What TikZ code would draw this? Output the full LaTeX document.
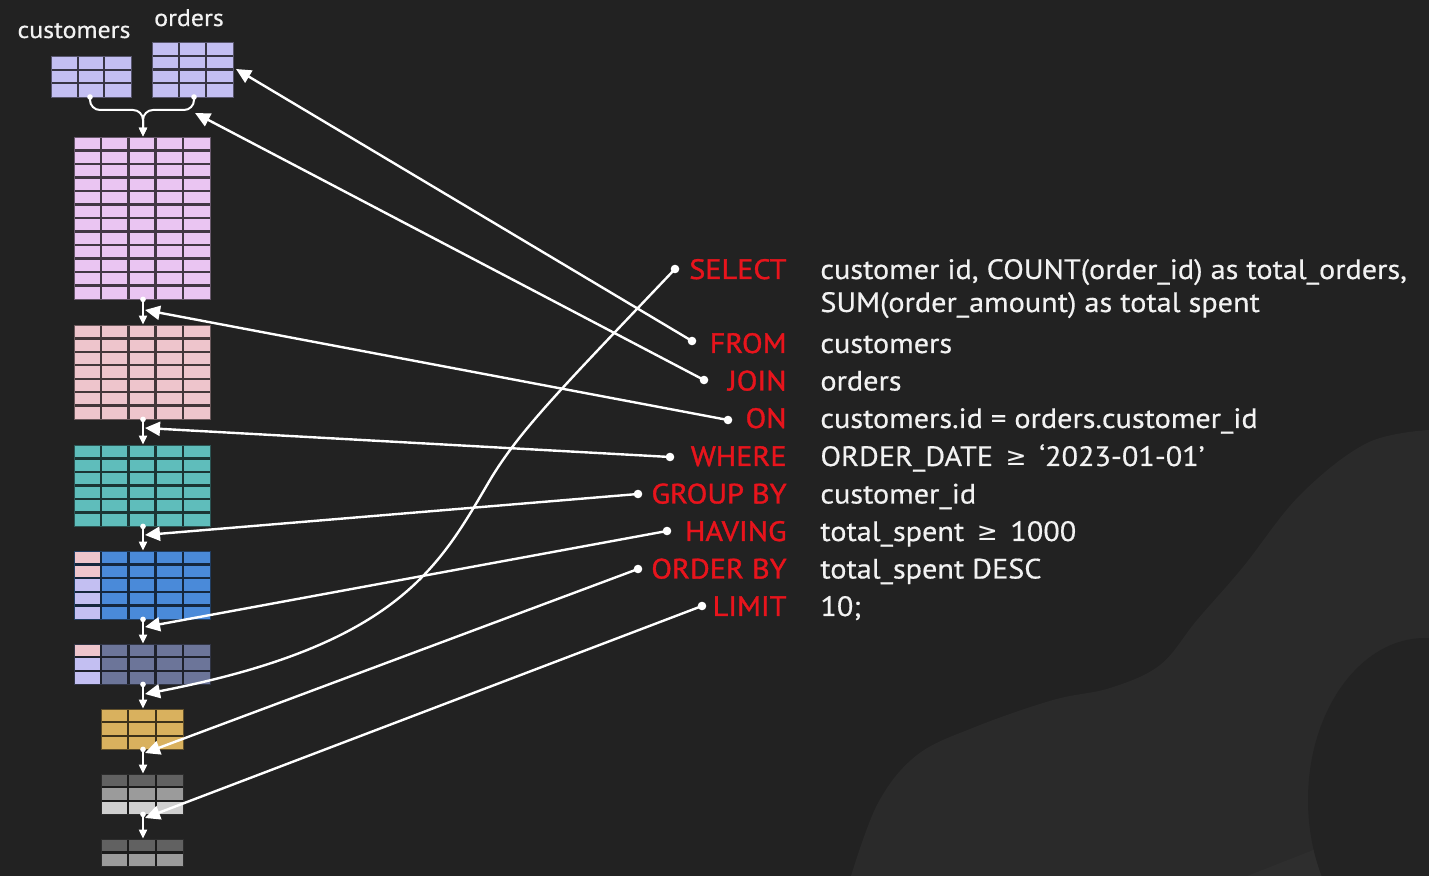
\documentclass[tikz,border=0pt]{standalone}
\usepackage{fontspec}
\setmainfont{PT Sans}[FakeStretch=1.08, FakeBold=0.5]
\newfontfamily\kwf{PT Sans}[FakeStretch=1.08, FakeBold=1.3]
\newfontfamily\symf{DejaVu Sans}
\usetikzlibrary{arrows.meta,fit,calc}
\definecolor{bg}{HTML}{222222}
\definecolor{blobc}{HTML}{2A2A2A}
\definecolor{blobd}{HTML}{2E2E2E}
\definecolor{ellc}{HTML}{232323}
\definecolor{kwred}{HTML}{E8141C}
\definecolor{txtw}{HTML}{F2F2F2}
\definecolor{lav}{HTML}{C3BFF2}
\definecolor{lilac}{HTML}{EAC5F2}
\definecolor{pinkc}{HTML}{EEC5CC}
\definecolor{tealc}{HTML}{5FBDBB}
\definecolor{bluec}{HTML}{4A8AD9}
\definecolor{slatec}{HTML}{6C7599}
\definecolor{goldc}{HTML}{D9B15E}
\definecolor{gA}{HTML}{616161}
\definecolor{gB}{HTML}{9B9B9B}
\definecolor{gC}{HTML}{CFCFCF}
\tikzset{
  gridln/.style={draw=#1!28!black, line width=1.15pt},
  gridbox/.style={draw=#1!45!black, line width=0.45pt},
  tbl/.style={inner sep=0pt, fill=#1},
  kdot/.style={circle, fill=white, inner sep=0pt, minimum size=4.3pt},
  sdot/.style={circle, fill=white, inner sep=0pt, minimum size=2.8pt},
  conn/.style={draw=white, line width=1.2pt, -{Triangle[length=7.5pt,width=7pt]}},
  vconn/.style={draw=white, line width=1pt, -{Triangle[length=4.5pt,width=4pt]}},
  kw/.style={text=kwred, font=\kwf\fontsize{14}{16}\selectfont, inner sep=0pt, anchor=base east},
  val/.style={text=txtw, font=\fontsize{14}{16}\selectfont, inner sep=0pt, anchor=base west},
  lbl/.style={text=txtw, font=\fontsize{12}{14}\selectfont, inner sep=0pt, anchor=base},
}
\newcommand\tbox[6]{\node[tbl=#6, fit={(#2,#3)(#4,#5)}] (#1) {};}
\newcommand\tgrid[7]{%
  \pgfmathsetmacro\cw{(#3-#1)/#5}\pgfmathsetmacro\rh{(#4-#2)/#6}%
  \pgfmathtruncatemacro\nc{#5-1}\pgfmathtruncatemacro\nr{#6-1}%
  \foreach \i in {1,...,\nc} {\draw[gridln=#7] ({#1+\i*\cw},#2) -- ({#1+\i*\cw},#4);}
  \foreach \j in {1,...,\nr} {\draw[gridln=#7] (#1,{#2+\j*\rh}) -- (#3,{#2+\j*\rh});}
  \draw[gridbox=#7] (#1,#2) rectangle (#3,#4);
}
\newcommand\mygeq{\hspace{0.45em}{\symf\fontsize{12.5}{14}\selectfont ≥}\hspace{0.45em}}
\begin{document}
\begin{tikzpicture}[x=0.5pt,y=-0.5pt]
\useasboundingbox (0,0) rectangle (1429,876);
\fill[bg] (0,0) rectangle (1429,876);
% background shapes
\fill[blobc] plot[smooth, tension=0.6] coordinates {(1429,430) (1367,443) (1300,495) (1243,567) (1197,620) (1160,665) (1110,688) (1053,700) (975,727) (917,755) (878,803) (851,876)} -- (1429,876) -- cycle;
\fill[blobd] (1247,876) -- (1321,847) -- (1429,822) -- (1429,876) -- cycle;
\fill[ellc] (1425,800) ellipse [x radius=117, y radius=162];

% tables
\tbox{cust}{51}{56}{131}{97}{lav}
\tgrid{51}{56}{131}{97}{3}{3}{lav}
\tbox{ord}{152}{42}{233}{97}{lav}
\tgrid{152}{42}{233}{97}{3}{4}{lav}
\tbox{tJoin}{74}{137}{210}{299}{lilac}
\tgrid{74}{137}{210}{299}{5}{12}{lilac}
\tbox{tOn}{74}{325}{210}{419}{pinkc}
\tgrid{74}{325}{210}{419}{5}{7}{pinkc}
\tbox{tWhere}{74}{445}{210}{526}{tealc}
\tgrid{74}{445}{210}{526}{5}{6}{tealc}
\tbox{tGroup}{74}{551}{210}{619}{bluec}
\fill[pinkc] (74,551) rectangle (101.2,578.2);
\fill[lav] (74,578.2) rectangle (101.2,619);
\tgrid{74}{551}{210}{619}{5}{5}{bluec}
\tbox{tHaving}{74}{644}{210}{684}{slatec}
\fill[pinkc] (74,644) rectangle (101.2,657.3);
\fill[lav] (74,657.3) rectangle (101.2,684);
\tgrid{74}{644}{210}{684}{5}{3}{slatec}
\tbox{tSelect}{101}{709}{183}{749}{goldc}
\tgrid{101}{709}{183}{749}{3}{3}{goldc}
\tbox{tOrder}{101}{774}{183}{814}{gB}
\fill[gA] (101,774) rectangle (183,787.3);
\fill[gC] (101,800.7) rectangle (183,814);
\tgrid{101}{774}{183}{814}{3}{3}{gA}
\tbox{tLimit}{101}{839}{183}{866}{gB}
\fill[gA] (101,839) rectangle (183,852.5);
\tgrid{101}{839}{183}{866}{3}{2}{gA}

% labels
\node[lbl] (lcust) at (74,38) {customers};
\node[lbl] (lord) at (189,26) {orders};

% join bracket
\node[sdot] (dc) at (90,97) {};
\node[sdot] (do) at (194,97) {};
\coordinate (jm) at (143,110);
\draw[vconn, rounded corners=5pt] (dc.center) -- (90,110) -- (jm) -- (tJoin.north -| jm);
\draw[vconn, rounded corners=5pt] (do.center) -- (194,110) -- (jm) -- (tJoin.north -| jm);

% vertical flow
\foreach \a/\b in {tJoin/tOn, tOn/tWhere, tWhere/tGroup, tGroup/tHaving, tHaving/tSelect, tSelect/tOrder, tOrder/tLimit} {
  \node[sdot] (d\a) at (\a.south -| jm) {};
  \draw[vconn] (d\a.center) -- (\b.north -| jm);
}

% keywords and values
\node[kw] (kSel) at (787,279) {SELECT};
\node[kw] (kFrom) at (787,353) {FROM};
\node[kw] (kJoin) at (787,390.5) {JOIN};
\node[kw] (kOn) at (787,428) {ON};
\node[kw] (kWhere) at (787,466) {WHERE};
\node[kw] (kGroup) at (787,503.5) {GROUP BY};
\node[kw] (kHaving) at (787,541) {HAVING};
\node[kw] (kOrder) at (787,578.5) {ORDER BY};
\node[kw] (kLimit) at (787,616) {LIMIT};

\node[val] (vSel) at (820,279) {customer id, COUNT(order\_id) as total\_orders,};
\node[val] (vSel2) at (820,312) {SUM(order\_amount) as total spent};
\node[val] (vFrom) at (820,353) {customers};
\node[val] (vJoin) at (820,390.5) {orders};
\node[val] (vOn) at (820,428) {customers.id = orders.customer\_id};
\node[val] (vWhere) at (820,466) {ORDER\_DATE\mygeq‘2023-01-01’};
\node[val] (vGroup) at (820,503.5) {customer\_id};
\node[val] (vHaving) at (820,541) {total\_spent\mygeq1000};
\node[val] (vOrder) at (820,578.5) {total\_spent DESC};
\node[val] (vLimit) at (820,616) {10;};

% keyword dots
\node[kdot] (pSel) at (675,269) {};
\node[kdot] (pFrom) at (692,341) {};
\node[kdot] (pJoin) at (704,380) {};
\node[kdot] (pOn) at (728,420) {};
\node[kdot] (pWhere) at (670,457) {};
\node[kdot] (pGroup) at (638,494) {};
\node[kdot] (pHaving) at (667,531) {};
\node[kdot] (pOrder) at (638,569) {};
\node[kdot] (pLimit) at (702,606) {};

% targets
\coordinate (eFrom) at (236,69);
\coordinate (eJoin) at (195,113);
\coordinate (eOn) at (145,310);
\coordinate (eWhere) at (145,428);
\coordinate (eGroup) at (145,535);
\coordinate (eHaving) at (145,627);
\coordinate (eSel) at (145,694);
\coordinate (eOrder) at (145,753);
\coordinate (eLimit) at (145,818);

\draw[conn] (pFrom.center) -- (eFrom);
\draw[conn] (pJoin.center) -- (eJoin);
\draw[conn] (pOn.center) -- (eOn);
\draw[conn] (pWhere.center) -- (eWhere);
\draw[conn] (pGroup.center) -- (eGroup);
\draw[conn] (pHaving.center) -- (eHaving);
\draw[conn] (pOrder.center) -- (eOrder);
\draw[conn] (pLimit.center) -- (eLimit);
\draw[conn] (pSel.center) .. controls (560,390) and (520,430) .. (490,480) .. controls (440,565) and (400,645) .. (eSel);
\end{tikzpicture}
\end{document}
